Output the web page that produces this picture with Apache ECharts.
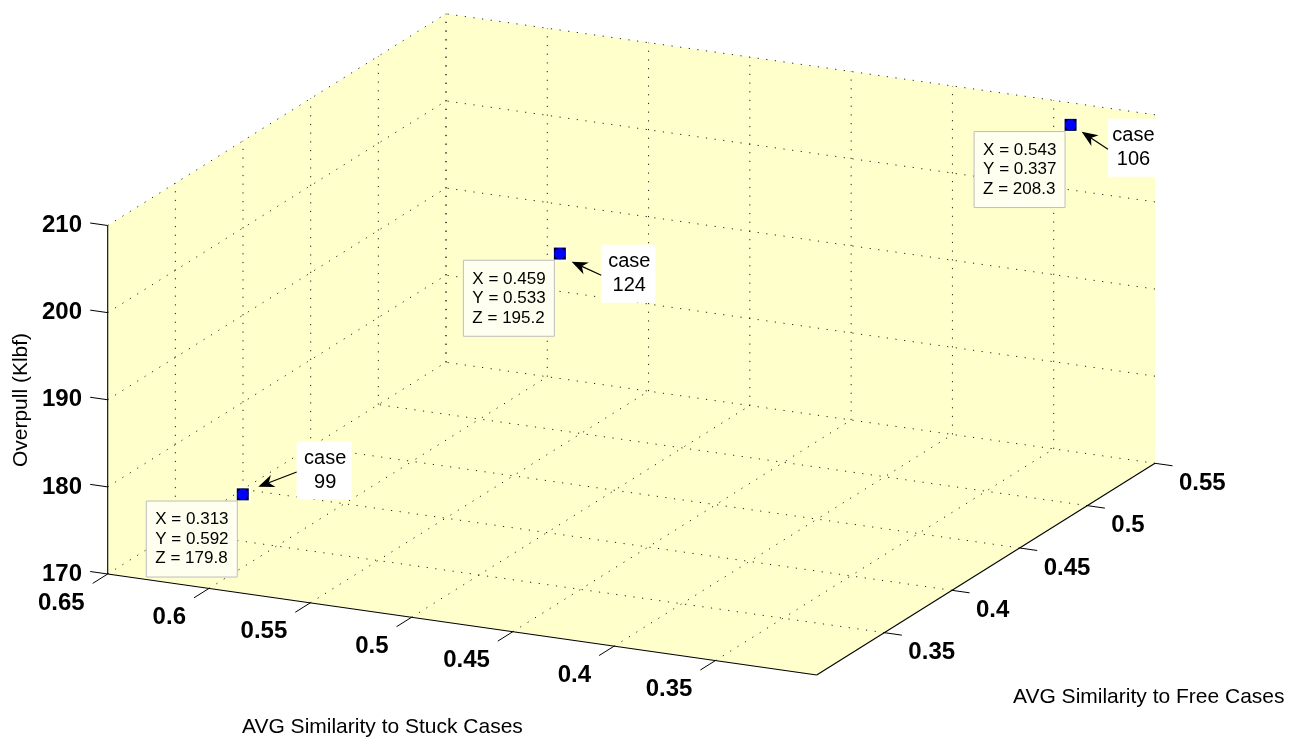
<!DOCTYPE html>
<html>
<head>
<meta charset="utf-8">
<script src="https://cdn.jsdelivr.net/npm/echarts@6/dist/echarts.min.js"></script>
<style>
html,body{margin:0;padding:0;background:#fff;}
#c{width:1303px;height:744px;}
</style>
</head>
<body>
<div id="c"></div>
<script>
// ---------- data ----------
const caseIds = [99, 124, 106];
const xVals = [0.313, 0.459, 0.543];   // AVG Similarity to Free Cases
const yVals = [0.592, 0.533, 0.337];   // AVG Similarity to Stuck Cases
const zVals = [179.8, 195.2, 208.3];   // Overpull (Klbf)
const xTicks = [0.35, 0.4, 0.45, 0.5, 0.55];
const yTicks = [0.35, 0.4, 0.45, 0.5, 0.55, 0.6, 0.65];
const zTicks = [170, 180, 190, 200, 210];
const xRange = [0.3, 0.55];
const yRange = [0.3, 0.65];
const zRange = [170, 210];

// ---------- layout (screen frame of the 3D box) ----------
const W = 1303, H = 744;
const O = [107.7, 574];        // (xMin, yMax, zMin)
const XV = [338.3, -211.7];    // full x range
const YV = [709, 101];         // from yMax to yMin
const ZV = [0, -348.5];        // full z range
const TICK = 17.7;
const FACE = '#FFFFCC';
const BOLD = 'bold 24px "Liberation Sans", Arial, sans-serif';
const TITLE = '21px "Liberation Sans", Arial, sans-serif';
// annotation layout offsets relative to projected marker (pixels)
const annoBox = [[81.4, -23.8, 55], [68.4, 20.2, 54], [61.9, 23.0, 49]];
const annoTip = [[15.5, -7.6], [11.8, 8.1], [11.1, 6.9]];

function proj(x, y, z) {
  const a = (x - xRange[0]) / (xRange[1] - xRange[0]);
  const b = (yRange[1] - y) / (yRange[1] - yRange[0]);
  const c = (z - zRange[0]) / (zRange[1] - zRange[0]);
  return [O[0] + a * XV[0] + b * YV[0] + c * ZV[0],
          O[1] + a * XV[1] + b * YV[1] + c * ZV[1]];
}
function unit(v, s) { const l = Math.hypot(v[0], v[1]); return [v[0] / l * s, v[1] / l * s]; }

const [x0, x1] = xRange, [y0, y1] = yRange, [z0, z1] = zRange;

// grid segments (3D endpoints)
const gridSegs = [];
xTicks.forEach(x => gridSegs.push([[x, y1, z0], [x, y1, z1]]));
zTicks.filter(z => z !== z0).forEach(z => gridSegs.push([[x0, y1, z], [x1, y1, z]]));
yTicks.forEach(y => gridSegs.push([[x1, y, z0], [x1, y, z1]]));
zTicks.filter(z => z !== z0).forEach(z => gridSegs.push([[x1, y0, z], [x1, y1, z]]));
xTicks.forEach(x => gridSegs.push([[x, y0, z0], [x, y1, z0]]));
yTicks.forEach(y => gridSegs.push([[x0, y, z0], [x1, y, z0]]));

// axis lines
const axisSegs = [
  [[x0, y1, z0], [x0, y1, z1]],
  [[x0, y1, z0], [x0, y0, z0]],
  [[x0, y0, z0], [x1, y0, z0]]
];
// ticks: [point3d, direction, label, labelDx, labelDy, align]
const tickItems = [];
const zDir = unit([-YV[0], -YV[1]], TICK), yDir = unit([-XV[0], -XV[1]], TICK), xDir = unit(YV, TICK);
zTicks.forEach(z => tickItems.push([[x0, y1, z], zDir, String(z), -25.7, 0, 'right']));
yTicks.forEach(y => tickItems.push([[x0, y, z0], yDir, String(y), -23, 29, 'right']));
xTicks.forEach(x => tickItems.push([[x, y0, z0], xDir, String(x), 24, 20, 'left']));

const chart = echarts.init(document.getElementById('c'), null, {renderer: 'canvas'});

function pt(api, p) { return api.coord(p); }

const option = {
  animation: false,
  backgroundColor: '#ffffff',
  grid: {left: 0, right: 0, top: 0, bottom: 0},
  xAxis: {type: 'value', min: 0, max: W, show: false},
  yAxis: {type: 'value', min: 0, max: H, inverse: true, show: false},
  graphic: [
    {type: 'text', left: 242, top: 717, style: {text: 'AVG Similarity to Stuck Cases', font: TITLE, fill: '#000'}},
    {type: 'text', left: 1013, top: 687, style: {text: 'AVG Similarity to Free Cases', font: TITLE, fill: '#000'}},
    {type: 'text', x: 21, y: 400, rotation: Math.PI / 2,
     style: {text: 'Overpull (Klbf)', font: TITLE, fill: '#000', align: 'center', verticalAlign: 'middle'}}
  ],
  series: [
    { // box faces
      type: 'custom', data: [[0, 0]], silent: true, z: 1,
      renderItem: (params, api) => {
        const pts = [proj(x0, y1, z1), proj(x1, y1, z1), proj(x1, y0, z1), proj(x1, y0, z0), proj(x0, y0, z0), proj(x0, y1, z0)]
          .map(p => pt(api, p));
        return {type: 'polygon', shape: {points: pts}, style: {fill: FACE, stroke: null}};
      }
    },
    { // grid
      type: 'custom', data: gridSegs.map((s, i) => [i, 0]), silent: true, z: 2,
      renderItem: (params, api) => {
        const s = gridSegs[params.dataIndex];
        return {type: 'polyline', shape: {points: [pt(api, proj(...s[0])), pt(api, proj(...s[1]))]},
          style: {stroke: '#222', lineWidth: 1, lineDash: [1.2, 7.5], fill: null}};
      }
    },
    { // axes lines
      type: 'custom', data: axisSegs.map((s, i) => [i, 0]), silent: true, z: 3,
      renderItem: (params, api) => {
        const s = axisSegs[params.dataIndex];
        return {type: 'polyline', shape: {points: [pt(api, proj(...s[0])), pt(api, proj(...s[1]))]},
          style: {stroke: '#000', lineWidth: 1.1, fill: null}};
      }
    },
    { // ticks + labels
      type: 'custom', data: tickItems.map((s, i) => [i, 0]), silent: true, z: 3,
      renderItem: (params, api) => {
        const t = tickItems[params.dataIndex];
        const p = pt(api, proj(...t[0]));
        return {type: 'group', children: [
          {type: 'polyline', shape: {points: [p, [p[0] + t[1][0], p[1] + t[1][1]]]}, style: {stroke: '#000', lineWidth: 1, fill: null}},
          {type: 'text', style: {text: t[2], x: p[0] + t[3], y: p[1] + t[4], align: t[5], verticalAlign: 'middle', font: BOLD, fill: '#000'}}
        ]};
      }
    },
    { // markers, datatips, annotations
      type: 'custom', data: caseIds.map((c, i) => [i, 0]), silent: true, z: 5,
      renderItem: (params, api) => {
        const i = params.dataIndex;
        const m = pt(api, proj(xVals[i], yVals[i], zVals[i]));
        const bx = m[0] - 5.5 - 91, by = m[1] + 6.7;
        const ab = annoBox[i];
        const cx = m[0] + ab[0], cy = m[1] + ab[1], bw = ab[2], bh = 58;
        const tail = [cx - bw / 2, cy + 1.5];
        const tip = [m[0] + annoTip[i][0], m[1] + annoTip[i][1]];
        const ang = Math.atan2(tip[1] - tail[1], tip[0] - tail[0]);
        const L = 16, Wd = 6.5;
        const ca = Math.cos(ang), sa = Math.sin(ang);
        const back = (d, w) => [tip[0] - d * ca - w * sa, tip[1] - d * sa + w * ca];
        return {type: 'group', children: [
          {type: 'rect', shape: {x: m[0] - 8, y: m[1] - 8, width: 16, height: 16}, style: {fill: 'rgba(255,255,255,0.6)'}},
          {type: 'rect', shape: {x: m[0] - 6, y: m[1] - 6, width: 12, height: 12}, style: {fill: '#000020'}},
          {type: 'circle', shape: {cx: m[0], cy: m[1], r: 5.6}, style: {fill: '#0000FF'}},
          {type: 'rect', shape: {x: bx, y: by, width: 91, height: 76}, style: {fill: '#FFFFF0', stroke: '#BDBDBD', lineWidth: 1}},
          {type: 'text', style: {text: 'X = ' + xVals[i] + '\nY = ' + yVals[i] + '\nZ = ' + zVals[i],
            x: bx + 9, y: by + 9, lineHeight: 19.5, font: '17px "Liberation Sans", Arial, sans-serif', fill: '#000', align: 'left', verticalAlign: 'top'}},
          {type: 'rect', shape: {x: cx - bw / 2, y: cy - bh / 2, width: bw, height: bh}, style: {fill: '#FFFFFF'}},
          {type: 'text', style: {text: 'case\n' + caseIds[i], x: cx + 1, y: cy, lineHeight: 24, align: 'center', verticalAlign: 'middle',
            font: '20px "Liberation Sans", Arial, sans-serif', fill: '#000'}},
          {type: 'polyline', shape: {points: [tail, back(L * 0.7, 0)]}, style: {stroke: '#000', lineWidth: 1.2, fill: null}},
          {type: 'polygon', shape: {points: [tip, back(L, Wd), back(L * 0.7, 0), back(L, -Wd)]}, style: {fill: '#000'}}
        ]};
      }
    }
  ]
};
chart.setOption(option);
</script>
</body>
</html>
